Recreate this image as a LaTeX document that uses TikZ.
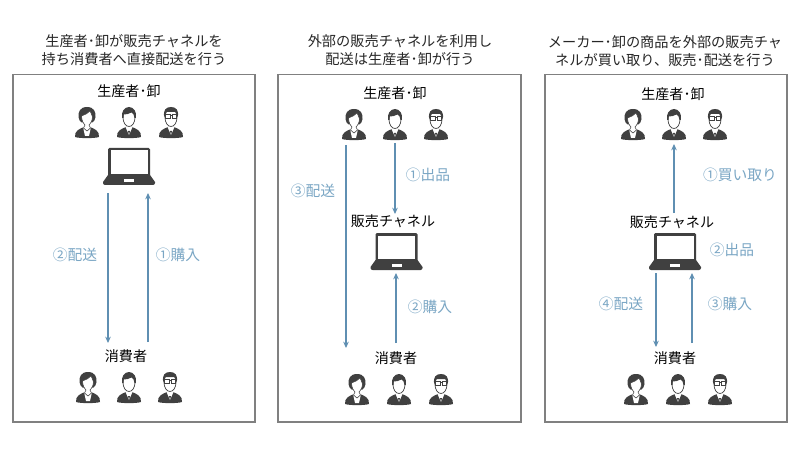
\documentclass[tikz,border=0pt]{standalone}
\usepackage{fontspec}
\setmainfont{Noto Sans CJK JP}
\usepackage{xcolor}
\usetikzlibrary{arrows.meta}
\definecolor{dark}{HTML}{404040}
\definecolor{flow}{HTML}{5F8FB2}
\definecolor{flowtext}{HTML}{7AA6C4}
\tikzset{
	panel/.style={draw=black!50,line width=1pt},
	head/.style={font=\fontsize{10}{12}\selectfont,text=black,inner sep=0pt},
	step label/.style={font=\fontsize{10.5}{12}\selectfont,text=flowtext,inner sep=0pt},
	title/.style={font=\fontsize{10.1}{12.8}\selectfont,text=black!85,align=center,inner sep=0pt},
	flowline/.style={draw=flow,line width=0.95pt,-{Stealth[length=4.5pt,width=4pt]}},
	body/.pic={
		\fill[dark] (-12,0) .. controls (-12.5,-6) and (-8,-8) .. (-3,-10) -- (3,-10) .. controls (8,-8) and (12.5,-6) .. (12,0)
			.. controls (8,1.5) and (-8,1.5) .. cycle;
		\fill[white] (-3.5,-10) -- (0,-2) -- (3.5,-10) -- cycle;
		\fill[dark] (-1,-6) -- (1,-6) -- (0,-2) -- cycle;
	},
	woman/.pic={
		\pic {body};
		\fill[white] (-4,-10) -- (-2,-1) -- (2,-1) -- (4,-10) -- cycle;
		\fill[dark] (0,-30) .. controls (-7,-30) and (-9,-25) .. (-8.5,-20) .. controls (-8,-17) and (-7,-15.5) .. (-5.5,-14.5)
			-- (5.5,-14.5) .. controls (7,-15.5) and (8,-17) .. (8.5,-20) .. controls (9,-25) and (7,-30) .. (0,-30) -- cycle;
		\fill[white,draw=dark,line width=0.4pt] (-5.5,-21) .. controls (-2,-22) and (1,-24) .. (3,-26) .. controls (4,-24) and (5,-22) .. (5.5,-20)
			.. controls (5.5,-16) and (3,-13) .. (2,-12) -- (3.5,-9) -- (0,-6) -- (-3.5,-9) -- (-2,-12) .. controls (-3,-13) and (-5.5,-16) .. (-5.5,-21) -- cycle;
	},
	man/.pic={
		\pic {body};
		\fill[white,draw=dark,line width=0.5pt] (0,-19.5) ellipse (6 and 9);
		\fill[dark] (-6.8,-19) .. controls (-8,-25) and (-5,-30) .. (0,-30) .. controls (5,-30) and (8,-25) .. (6.8,-19)
			-- (5.5,-19) .. controls (5.5,-22) and (4,-24) .. (2.5,-24.5) .. controls (0,-23) and (-3,-22.5) .. (-5.5,-22.5) -- (-5.5,-19) -- cycle;
	},
	glasses/.pic={
		\pic {body};
		\fill[white,draw=dark,line width=0.5pt] (0,-19.5) ellipse (6 and 9);
		\fill[dark] (-6.8,-20) .. controls (-8,-27) and (-5,-30) .. (0,-30) .. controls (5,-30) and (8,-27) .. (6.8,-20)
			-- (5.5,-22) -- (5,-25) -- (-5,-25) -- (-5.5,-22) -- cycle;
		\draw[dark,line width=0.6pt] (-5.5,-22.5) rectangle (-1,-19) (1,-22.5) rectangle (5.5,-19) (-1,-21.5) -- (1,-21.5);
	},
	laptop/.pic={
		\fill[dark,rounded corners=1pt] (-21,-17) rectangle (21,14);
		\fill[white] (-18.5,-14.5) rectangle (18.5,9);
		\fill[dark] (-21,10) -- (21,10) -- (26,17) -- (26,18) .. controls (26,19) and (25,20) .. (24,20)
			-- (-24,20) .. controls (-25,20) and (-26,19) .. (-26,18) -- (-26,17) -- cycle;
		\fill[white] (-5,14) rectangle (5,17);
	},
}
\newcommand{\trio}[3]{
	\pic at (#1,#3) {woman};
	\pic at (#2,#3) {man};
	\pic at ({2*#2-#1},#3) {glasses};
}

\begin{document}
\begin{tikzpicture}[x=0.25mm,y=-0.25mm]
	\useasboundingbox (0,0) rectangle (800,450);
	% titles
	\node[title] (T) at (134,50) {生産者･卸が販売チャネルを\\持ち消費者へ直接配送を行う};
	\node[title] (T') at (400,50.5) {外部の販売チャネルを利用し\\配送は生産者･卸が行う};
	\node[title] (T'') at (665,51) {メーカー･卸の商品を外部の販売チャ\\ネルが買い取り、販売･配送を行う};
	% panels
	\draw[panel] (13,74.5) rectangle (255,422);
	\draw[panel] (278,74.5) rectangle (521,422);
	\draw[panel] (545,74.5) rectangle (787,422);
	% first panel
	\node[head] (A) at (129,91) {生産者･卸};
	\node[head] (C) at (126,356) {消費者};
	\trio{87}{129}{137}
	\trio{88}{129}{402}
	\pic at (129,165) {laptop};
	\coordinate (A1) at (108,193);
	\coordinate (A2) at (108,343);
	\coordinate (A3) at (148,342);
	\coordinate (A4) at (148,193);
	\node[step label] (L1) at (75,255) {②配送};
	\node[step label] (L2) at (178,255) {①購入};
	% second panel
	\node[head] (B) at (395,93) {生産者･卸};
	\node[head] (B') at (393,221) {販売チャネル};
	\node[head] (B'') at (396,358) {消費者};
	\trio{354}{395}{139}
	\trio{357}{399}{404}
	\pic at (396.5,250) {laptop};
	\coordinate (B1) at (395,143);
	\coordinate (B2) at (395,214);
	\coordinate (B3) at (396,343);
	\coordinate (B4) at (396,273);
	\coordinate (B5) at (346,145);
	\coordinate (B6) at (346,348);
	\node[step label] (L3) at (428,175) {①出品};
	\node[step label] (L4) at (430,307) {②購入};
	\node[step label] (L5) at (313,191) {③配送};
	% third panel
	\node[head] (D) at (673,94) {生産者･卸};
	\node[head] (D') at (672,222) {販売チャネル};
	\node[head] (D'') at (675,358) {消費者};
	\trio{633}{674}{139}
	\trio{636}{678}{404}
	\pic at (675,250) {laptop};
	\coordinate (D1) at (674,213);
	\coordinate (D2) at (674,144);
	\coordinate (D3) at (656,273);
	\coordinate (D4) at (656,347);
	\coordinate (D5) at (692,343);
	\coordinate (D6) at (692,273);
	\node[step label] (L6) at (740,175) {①買い取り};
	\node[step label] (L7) at (732,250) {②出品};
	\node[step label] (L8) at (621,304) {④配送};
	\node[step label] (L9) at (730,304) {③購入};
	%
	\path[every edge/.style={flowline}]
	(A1) edge (A2)
	(A3) edge (A4)
	(B1) edge (B2)
	(B3) edge (B4)
	(B5) edge (B6)
	(D1) edge (D2)
	(D3) edge (D4)
	(D5) edge (D6);
\end{tikzpicture}
\end{document}
